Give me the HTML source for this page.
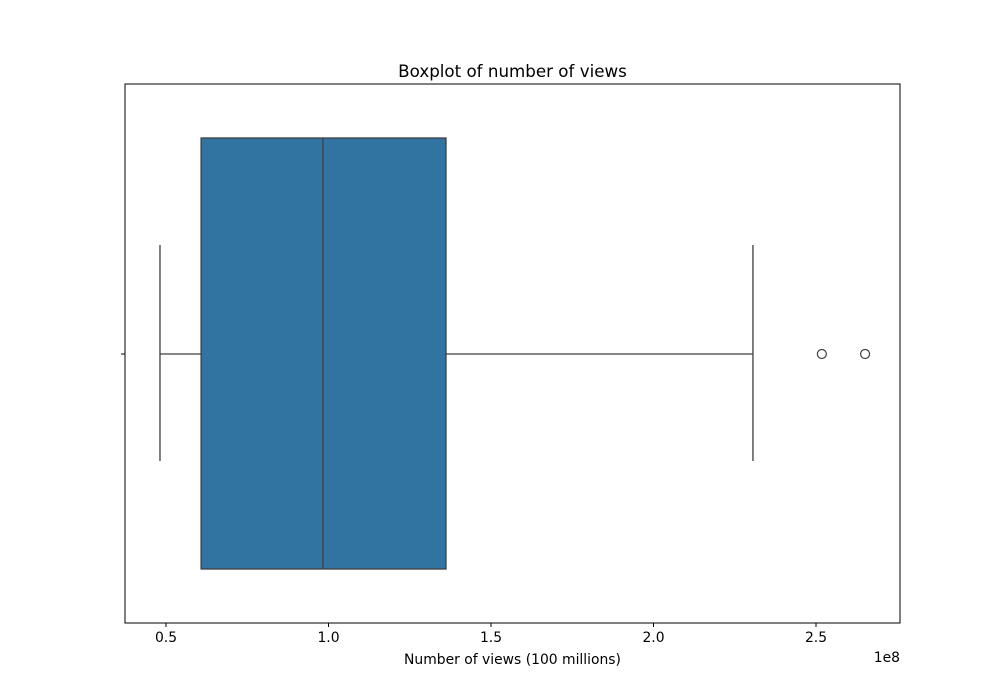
<!DOCTYPE html>
<html><head><meta charset="utf-8"><style>
html,body{margin:0;padding:0;background:#fff;}
svg{display:block;font-family:"DejaVu Sans","Liberation Sans",sans-serif;}
</style></head><body>
<svg id="chart" width="1000" height="700">
<rect x="0" y="0" width="1000" height="700" fill="#fff"/>
<text x="512.5" y="77" text-anchor="middle" font-size="16.7" fill="#000">Boxplot of number of views</text>
<g id="plot"></g>
<rect x="125" y="84" width="775" height="539" fill="none" stroke="#000" stroke-width="1"/>
<text x="512.5" y="664" text-anchor="middle" font-size="13.9" fill="#000">Number of views (100 millions)</text>
<text x="900" y="662" text-anchor="end" font-size="13.9" fill="#000">1e8</text>
</svg>
<script>
const tickValues = [0.5, 1.0, 1.5, 2.0, 2.5];
const tickLabels = ["0.5", "1.0", "1.5", "2.0", "2.5"];
const whiskerLow = 0.4815;
const q1 = 0.608;
const median = 0.983;
const q3 = 1.3615;
const whiskerHigh = 2.306;
const outliers = [2.518, 2.651];

const NS = "http://www.w3.org/2000/svg";
const g = document.getElementById("plot");
function xs(v){ return 166 + (v - 0.5) * 325; }
const yc = 354, boxTop = 138, boxBot = 569, capTop = 245, capBot = 461;
function mk(tag, attrs){ const e = document.createElementNS(NS, tag); for (const k in attrs) e.setAttribute(k, attrs[k]); g.appendChild(e); return e; }

let e;
e = mk("line", {x1: xs(whiskerLow), x2: xs(q1), y1: yc, y2: yc, stroke: "#3f3f3f", "stroke-width": 1.3});


e = mk("line", {x1: xs(q3), x2: xs(whiskerHigh), y1: yc, y2: yc, stroke: "#3f3f3f", "stroke-width": 1.3});


e = mk("line", {x1: xs(whiskerLow), x2: xs(whiskerLow), y1: capTop, y2: capBot, stroke: "#3f3f3f", "stroke-width": 1.3});


e = mk("line", {x1: xs(whiskerHigh), x2: xs(whiskerHigh), y1: capTop, y2: capBot, stroke: "#3f3f3f", "stroke-width": 1.3});


e = mk("rect", {x: xs(q1), y: boxTop, width: xs(q3) - xs(q1), height: boxBot - boxTop, fill: "#3274a1", stroke: "#3f3f3f", "stroke-width": 1.3});


e = mk("line", {x1: xs(median), x2: xs(median), y1: boxTop, y2: boxBot, stroke: "#3f3f3f", "stroke-width": 1.3});


outliers.forEach(v => {
  const c = mk("circle", {cx: xs(v), cy: yc, r: 4.5, fill: "none", stroke: "#3f3f3f", "stroke-width": 1.2});
  
  
});
e = mk("line", {x1: 121, x2: 125, y1: yc, y2: yc, stroke: "#000", "stroke-width": 1});


tickValues.forEach((v, i) => {
  const t = mk("line", {x1: xs(v), x2: xs(v), y1: 623, y2: 627, stroke: "#000", "stroke-width": 1});
  
  
  const l = mk("text", {x: xs(v), y: 642, "text-anchor": "middle", "font-size": 13.9, fill: "#000"});
  l.textContent = tickLabels[i];
  
  
});
</script>
</body></html>
